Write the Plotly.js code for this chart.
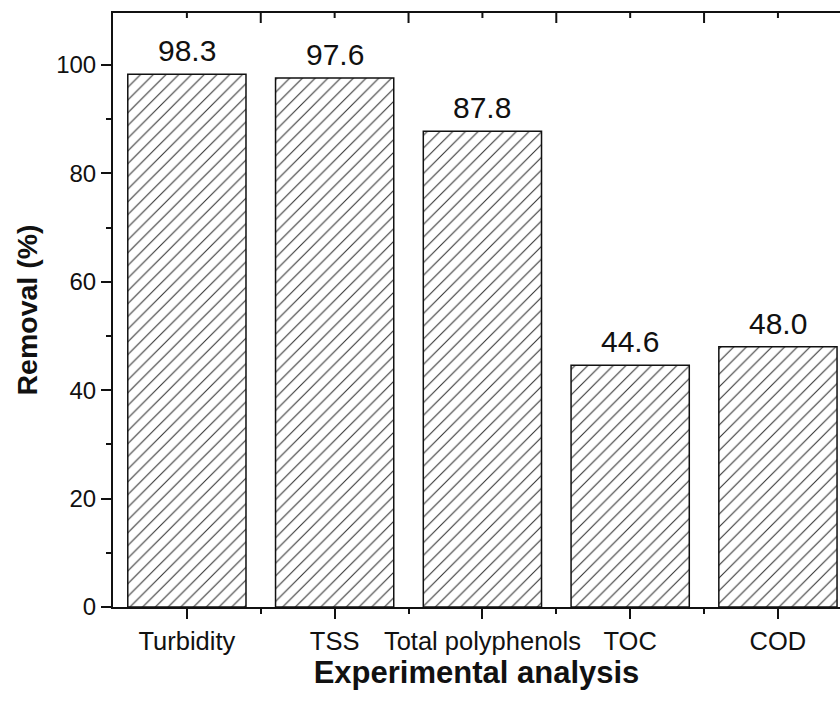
<!DOCTYPE html>
<html>
<head>
<meta charset="utf-8">
<script src="https://cdn.plot.ly/plotly-3.0.1.min.js"></script>
<style>
  html, body { margin: 0; padding: 0; background: #fff; }
  #chart { width: 840px; height: 702px; }
</style>
</head>
<body>
<div id="chart"></div>
<script>
const categories = ["Turbidity", "TSS", "Total polyphenols", "TOC", "COD"];
const removal = [98.3, 97.6, 87.8, 44.6, 48.0];
const removalLabels = ["98.3", "97.6", "87.8", "44.6", "48.0"];
const yTickValues = [0, 20, 40, 60, 80, 100];

const idx = categories.map((_, i) => i);
const bounds = categories.slice(1).map((_, i) => i + 0.5);

const FONT = '"Liberation Sans", Arial, sans-serif';
const INK = '#111';

const xr = [-0.5, 4.42];
const yr = [0, 109.6];

const traces = [
  {
    type: 'bar',
    x: idx,
    y: removal,
    width: 0.8,
    marker: {
      color: '#ffffff',
      line: { color: INK, width: 1.5 },
      pattern: { shape: '/', size: 9, solidity: 0.12, fgcolor: '#333', bgcolor: '#ffffff' }
    },
    hoverinfo: 'skip',
    showlegend: false
  }
];

const annotations = removal.map((v, i) => ({
  x: idx[i],
  y: v,
  xref: 'x',
  yref: 'y',
  text: removalLabels[i],
  showarrow: false,
  xanchor: 'center',
  yanchor: 'bottom',
  yshift: 5,
  font: { family: FONT, size: 30, color: INK }
}));

// inward ticks on the top frame: long at category boundaries, short at category centres
function topTick(xv, len) {
  return {
    type: 'line', xref: 'x', yref: 'paper', ysizemode: 'pixel', yanchor: 1,
    x0: xv, x1: xv, y0: 0, y1: -len,
    line: { color: INK, width: 2 }, layer: 'above'
  };
}
const shapes = bounds.map(b => topTick(b, 10)).concat(idx.map(c => topTick(c, 5)));

const layout = {
  width: 840,
  height: 702,
  margin: { l: 113, r: 0, t: 13, b: 95 },
  paper_bgcolor: '#fff',
  plot_bgcolor: '#fff',
  font: { family: FONT, color: INK },
  showlegend: false,
  annotations: annotations,
  shapes: shapes,
  xaxis: {
    range: xr,
    tickmode: 'array',
    tickvals: idx,
    ticktext: categories,
    ticks: 'outside',
    ticklen: 10,
    tickwidth: 2,
    tickcolor: INK,
    tickfont: { family: FONT, size: 25.5, color: INK },
    minor: { tickmode: 'array', tickvals: bounds, ticks: 'outside', ticklen: 5, tickwidth: 2, tickcolor: INK, showgrid: false },
    showline: true,
    linewidth: 2,
    linecolor: INK,
    mirror: true,
    showgrid: false,
    zeroline: false,
    automargin: false,
    title: { text: 'Experimental analysis', font: { family: FONT, size: 31, color: INK, weight: 'bold' }, standoff: 4 }
  },
  yaxis: {
    range: yr,
    tickmode: 'array',
    tickvals: yTickValues,
    ticks: 'outside',
    ticklen: 10,
    tickwidth: 2,
    tickcolor: INK,
    tickfont: { family: FONT, size: 24, color: INK },
    minor: { tickmode: 'linear', tick0: 0, dtick: 10, ticks: 'outside', ticklen: 5, tickwidth: 2, tickcolor: INK, showgrid: false },
    showline: true,
    linewidth: 2,
    linecolor: INK,
    mirror: false,
    showgrid: false,
    zeroline: false,
    automargin: false,
    title: { text: 'Removal (%)', font: { family: FONT, size: 28.5, color: INK, weight: 'bold' }, standoff: 10 }
  }
};

Plotly.newPlot('chart', traces, layout, { staticPlot: true, displayModeBar: false });
</script>
</body>
</html>
